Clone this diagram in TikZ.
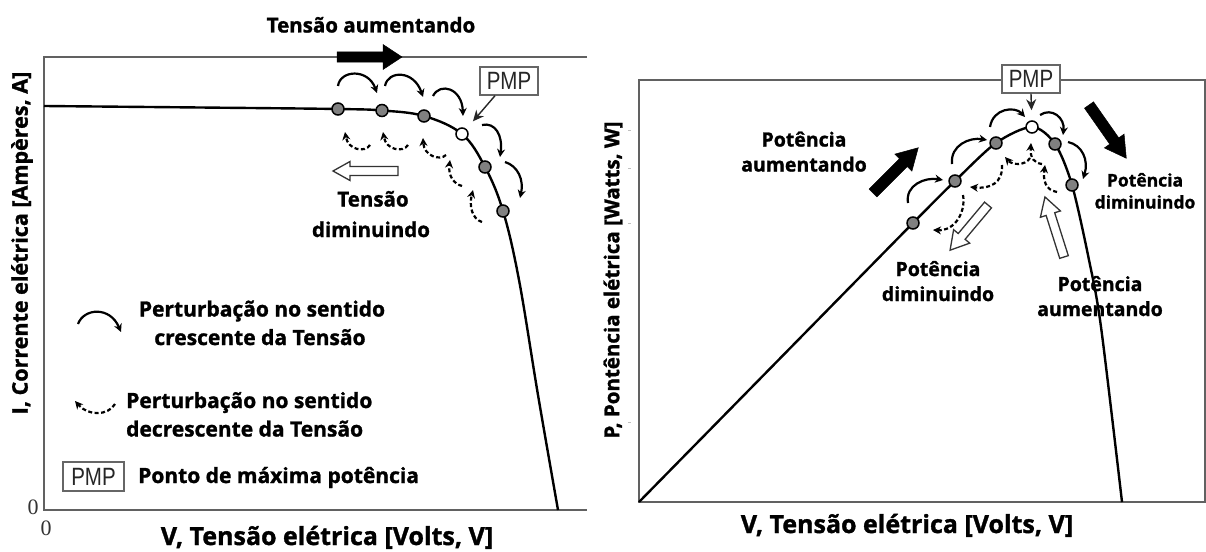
\documentclass[tikz,border=0pt]{standalone}
\usepackage{fontspec}
\setmainfont{Open Sans}[BoldFeatures={FakeBold=1.3}]
\newfontfamily\pmpfont[FakeStretch=0.82]{Liberation Sans}
\newfontfamily\zerofont{Liberation Serif}
\usetikzlibrary{arrows.meta}
\newcommand\fs[1]{\fontsize{#1}{#1}\selectfont}
% fat arrow: #1 style, #2 x, #3 y (tail), #4 angle, #5 length, #6 half shaft, #7 half head, #8 head length
\newcommand\fatarrow[8]{%
  \begin{scope}[shift={(#2,#3)},rotate=#4]
    \path[#1] (0,-#6) -- ({#5-#8},-#6) -- ({#5-#8},-#7) -- (#5,0) -- ({#5-#8},#7) -- ({#5-#8},#6) -- (0,#6) -- cycle;
  \end{scope}}
\tikzset{
  frame/.style={draw=black!62, line width=1.9pt},
  curve/.style={draw=black, line width=2.4pt},
  pt/.style={circle, draw=black, line width=1.5pt, fill=black!50, minimum size=12pt, inner sep=0pt},
  ptw/.style={pt, fill=white},
  sarc/.style={draw=black, line width=2.2pt, -{Stealth[length=8pt,width=8pt]}},
  darc/.style={sarc, dash pattern=on 4pt off 2.5pt},
  blackarrow/.style={fill=black, draw=black, line width=0.5pt},
  hollowarrow/.style={fill=white, draw=black!80, line width=1.3pt},
  pmpbox/.style={draw=black!60, line width=1.4pt, fill=white, font=\pmpfont\fs{25}, text=black!85, minimum width=58pt, minimum height=28pt, inner sep=0pt},
  pmparrow/.style={draw=black!85, line width=1.4pt, -{Stealth[length=11pt,width=10pt]}},
  lbl/.style={font=\bfseries\fs{20.5}, anchor=base, inner sep=0pt},
  plbl/.style={font=\bfseries\fs{19.5}, anchor=base, inner sep=0pt},
  leg/.style={font=\bfseries\fs{21}, anchor=base, inner sep=0pt},
  axlbl/.style={font=\bfseries\fs{25}, anchor=base, inner sep=0pt},
  ylbl/.style={font=\bfseries\fs{20.5}, rotate=90, inner sep=0pt},
  zero/.style={font=\zerofont\fs{22}, text=black!80, inner sep=0pt}
}
\begin{document}
\begin{tikzpicture}[x=1pt,y=-1pt]
\useasboundingbox (0,0) rectangle (1206,551);
\fill[white] (0,0) rectangle (1206,551);

% ================= LEFT PANEL =================
\draw[frame] (587,57) -- (44,57) -- (44,510) -- (587,510);
\draw[curve] plot[smooth, tension=0.6] coordinates {(44,106) (200,107.5) (338,109) (382,110.5) (424,116) (462,134) (485,167) (503,211) (519,280) (538,395) (558,510)};

% solid perturbation arcs
\draw[sarc] (338,86) .. controls (340,70) and (368,68) .. (377,93);
\draw[sarc] (385,86) .. controls (388,70) and (414,70) .. (423,97);
\draw[sarc] (433,96) .. controls (440,82) and (462,88) .. (463,116);
\draw[sarc] (482,125) .. controls (495,122) and (503,135) .. (500,157);
\draw[sarc] (505,162) .. controls (518,166) and (524,180) .. (520,198);
% dashed perturbation arcs
\draw[darc] (370,145) .. controls (365,153) and (348,150) .. (345,132);
\draw[darc] (408,145) .. controls (403,153) and (386,150) .. (383,132);
\draw[darc] (446,155) .. controls (440,161) and (424,156) .. (423,138);
\draw[darc] (462,186) .. controls (454,184) and (448,176) .. (450,160);
\draw[darc] (482,222) .. controls (472,219) and (469,206) .. (473,190);

% operating points
\node[pt] (a1) at (338,109) {};
\node[pt] (a2) at (382,110.5) {};
\node[pt] (a3) at (424,116) {};
\node[ptw] (a4) at (462,134) {};
\node[pt] (a5) at (485,167) {};
\node[pt] (a6) at (503,211) {};

% PMP box and arrow
\node[pmpbox] (pmpL) at (509,81) {PMP};
\draw[pmparrow, shorten >=10pt] ([xshift=-14pt]pmpL.south) -- (a4);

% big arrows
\fatarrow{blackarrow}{337}{57}{0}{65}{5}{12.5}{19}
\fatarrow{hollowarrow}{398}{171}{180}{65}{4.5}{9.5}{17}

\node[lbl] (tup) at (371,32.5) {Tensão aumentando};
\node[lbl] (tdn1) at (373,206.5) {Tensão};
\node[lbl] (tdn2) at (371,237) {diminuindo};

% legend
\draw[sarc] (78,324) .. controls (84,308) and (110,306) .. (121,332);
\node[leg] (leg1a) at (262,316.5) {Perturbação no sentido};
\node[leg] (leg1b) at (260,345) {crescente da Tensão};
\draw[darc] (115,404) .. controls (108,416) and (88,416) .. (75,401);
\node[leg, anchor=base west] (leg2a) at (126,408) {Perturbação no sentido};
\node[leg, anchor=base west] (leg2b) at (126,436.5) {decrescente da Tensão};
\node[pmpbox, minimum width=61pt, minimum height=29pt] (pmpLeg) at (93.5,476.5) {PMP};
\node[leg, anchor=base west] (leg3) at (138,483) {Ponto de máxima potência};

% axes labels
\node[zero] (z1) at (33,507) {0};
\node[zero] (z2) at (46,528) {0};
\node[axlbl] (xlL) at (327,545) {V, Tensão elétrica [Volts, V]};
\node[ylbl, font=\bfseries\fs{21.5}] (ylL) at (22,243) {I, Corrente elétrica [Ampères, A]};

% ================= RIGHT PANEL =================
\draw[frame] (639,80) rectangle (1205,502);
\foreach \ty in {130,168,223,422} \draw[black!25, line width=0.8pt] (628,\ty) -- (631,\ty);
\draw[curve] plot[smooth, tension=0.5] coordinates {(639,502) (776,362.5) (913,223) (955,181) (996,143) (1032,127) (1055,144) (1072,185) (1089,260) (1101,327) (1122,502)};

% solid arcs
\draw[sarc] (908,203) .. controls (905,185) and (925,177) .. (943,180);
\draw[sarc] (952,164) .. controls (950,145) and (970,137) .. (987,140);
\draw[sarc] (990,127) .. controls (993,108) and (1015,106) .. (1025,117);
\draw[sarc] (1040,115) .. controls (1052,107) and (1065,118) .. (1063,135);
\draw[sarc] (1068,142) .. controls (1082,145) and (1089,160) .. (1083,179);
% dashed arcs
\draw[darc] (963,195) .. controls (966,212) and (955,231) .. (933,230);
\draw[darc] (1002,165) .. controls (1003,183) and (990,189) .. (970,187);
\draw[darc] (1030,158) .. controls (1025,166) and (1012,165) .. (1005,157);
\draw[darc] (1042,164) .. controls (1034,163) and (1030,158) .. (1031,143);
\draw[darc] (1057,192) .. controls (1045,190) and (1043,180) .. (1045,165);

% points
\node[pt] (b1) at (913,223) {};
\node[pt] (b2) at (955,181) {};
\node[pt] (b3) at (996,143) {};
\node[ptw] (b4) at (1032,127) {};
\node[pt] (b5) at (1055,144) {};
\node[pt] (b6) at (1072,185) {};

\node[pmpbox] (pmpR) at (1031,79) {PMP};
\draw[pmparrow, shorten >=10pt] (pmpR.south) -- (b4);

% big arrows
\fatarrow{blackarrow}{873}{193}{45}{64}{5.5}{12}{21}
\fatarrow{blackarrow}{1089}{105}{-55}{65}{5.5}{12}{21}
\fatarrow{hollowarrow}{988}{205}{-130}{59}{4.5}{10.5}{18}
\fatarrow{hollowarrow}{1064}{257}{107.6}{63}{4.5}{10.5}{18}

\node[plbl] (pa1) at (804,146.5) {Potência};
\node[plbl] (pa2) at (804,171.5) {aumentando};
\node[plbl, font=\bfseries\fs{17.5}] (pd1) at (1145,186.5) {Potência};
\node[plbl, font=\bfseries\fs{17.5}] (pd2) at (1145,208.5) {diminuindo};
\node[plbl] (pd3) at (938,276) {Potência};
\node[plbl] (pd4) at (938,301) {diminuindo};
\node[plbl] (pa3) at (1100,291) {Potência};
\node[plbl] (pa4) at (1100,316) {aumentando};

\node[axlbl] (xlR) at (907,533) {V, Tensão elétrica [Volts, V]};
\node[ylbl] (ylR) at (613,280) {P, Pontência elétrica [Watts, W]};
\end{tikzpicture}
\end{document}
